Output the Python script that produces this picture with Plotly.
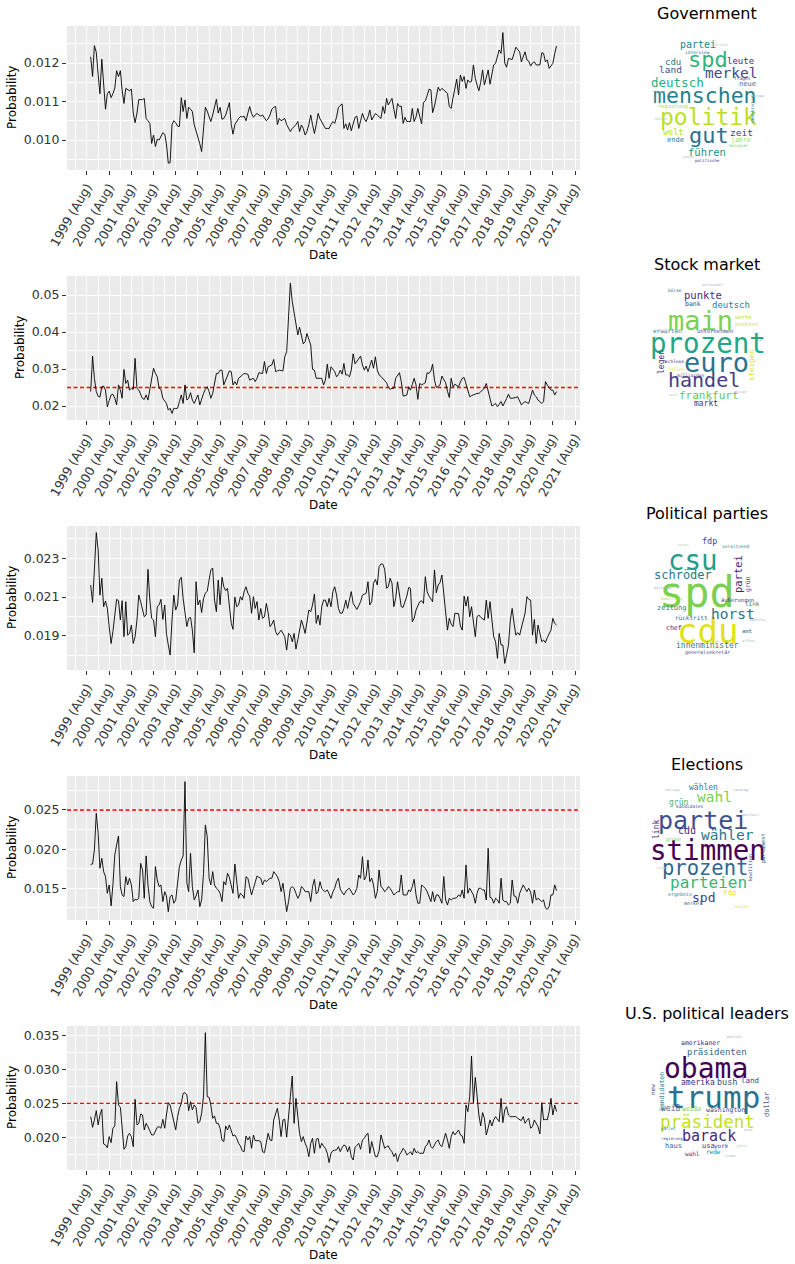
import numpy as np
import pandas as pd
import plotly.graph_objects as go

W, H = 795, 1264

# ---------------- data (monthly, starting Oct 1999) ----------------
start_month = "1999-10-01"

government_1e4 = [
    121.6, 116.5, 124.5, 122.8, 117, 112, 121, 114.5, 108, 112, 112.7, 111,
    112, 113.5, 118, 116.5, 118, 113, 109.5, 113.4, 113, 112.8, 113.2, 107,
    104.5, 107, 110.5, 110.5, 110.5, 110.8, 105.6, 105, 104.3, 99.1, 101.3, 98.3,
    100.2, 100, 101, 101.9, 101.5, 99, 94, 94.1, 104, 105, 104.5, 103.6,
    103.5, 111, 107.4, 110.4, 105.6, 108.5, 108, 107.4, 104, 102.5, 100.9, 99,
    97, 104, 108.5, 107.5, 106, 104.8, 106.5, 108.8, 110.6, 107, 108.5, 105.4,
    105.6, 106.5, 108, 109.7, 104, 101.5, 104, 105, 105.6, 106.1, 106, 106.2,
    105, 107, 108.7, 106.9, 105.9, 106.5, 106.9, 106.5, 106.2, 106.5, 105.6, 105,
    105.5, 106.5, 108, 108.5, 108.7, 104, 105.6, 105, 105.3, 105.6, 104, 103,
    102.2, 103, 103.5, 104, 104.8, 102.2, 103.9, 103, 101.3, 102.2, 104, 106.5,
    104, 101.7, 104, 106.9, 105.5, 104.8, 104, 103, 103, 103, 104, 104.8,
    104.3, 106, 108.5, 109, 109.4, 103, 104.2, 102.6, 104.5, 102.4, 104, 105.9,
    106.2, 103, 105, 106.9, 105.5, 104.8, 106, 107.8, 105.2, 106, 106.9, 106.5,
    106.1, 105.6, 108.7, 106.9, 110.8, 109.1, 110, 110.8, 108, 105.6, 109.5, 108.7,
    108.8, 104.3, 105.9, 104.8, 104.8, 104.8, 108.2, 104.8, 106, 108.2, 106.1, 104.2,
    109.7, 110.2, 111.5, 113.2, 113, 107.1, 108.8, 111, 113.7, 112.8, 113.4, 113,
    112.5, 112.1, 108.7, 108.2, 111, 113.2, 115.8, 111.7, 116.9, 115.2, 116.5, 113.4,
    115.6, 115, 115.2, 119.5, 116, 114.3, 112.8, 115, 118.2, 114.3, 116, 118.2,
    114.5, 117, 119.5, 119.9, 121.5, 123.4, 122.5, 127.9, 120, 118.9, 121.2, 121,
    120.9, 122.5, 124.1, 123.5, 122.9, 120.3, 121.5, 122.9, 120.8, 120.5, 119.2, 120,
    120.3, 119.5, 119.5, 119.5, 122.7, 122.5, 120.3, 120.8, 118.6, 119.2, 119.9, 122.5, 124.4,
]

stock_market_1e3 = [
    23.9, 33.5, 27.5, 23.9, 22.6, 22.4, 25.2, 25.4, 24.3, 19.8, 21.5, 23,
    23.2, 22.1, 20.3, 25.7, 24.3, 22.1, 29.9, 26.1, 27, 24.3, 24.8, 24.5,
    32.9, 24.8, 24.3, 23.2, 22, 21.8, 23, 21.6, 24.8, 28, 30.2, 28.8,
    27.9, 24.8, 24.5, 22.1, 21.5, 20.7, 18.9, 19.4, 18, 19.4, 19.3, 19.4,
    21.2, 23, 20.7, 25.7, 21.6, 22.1, 23.6, 21.6, 20.7, 21.8, 23, 20.3,
    22, 23.4, 24.5, 25.2, 23.9, 22.1, 23.4, 26, 28.8, 28.8, 29.7, 29.7,
    25.7, 27, 28.5, 29.5, 29.3, 25.7, 26.6, 25.7, 27.5, 27.9, 28.4, 28.8,
    28.7, 28.6, 27, 27.2, 27.5, 26.6, 27.5, 29, 28.8, 28.8, 32, 28.8,
    30.6, 30.8, 31.1, 32.6, 29.3, 29.5, 29.7, 29.6, 29.5, 33.3, 34.7, 44.1,
    53.2, 48.2, 45, 42, 39.2, 41.3, 38.7, 36.8, 37.4, 39.6, 38, 36.5,
    29.9, 29.7, 27.5, 27.5, 27.5, 27.5, 25.7, 27, 31.3, 27.5, 30.6, 30,
    29.3, 27.9, 28.5, 29.7, 28.6, 31.5, 28.4, 28.4, 27.9, 29.7, 34.1, 31.4,
    32.2, 32.9, 33.5, 31.1, 29.7, 30.8, 29.3, 30.8, 32.4, 30.2, 33.3, 29.7,
    28.4, 28, 27.5, 27, 26.3, 25, 24.5, 24.8, 24.8, 27.5, 28.2, 29,
    26.6, 22.7, 22.8, 23, 25.2, 24.3, 25.8, 27.5, 25.7, 21.8, 26.1, 25.7,
    26, 26.3, 29, 28.8, 29.5, 31.3, 27, 25, 25.3, 25.7, 28.1, 27,
    26.3, 24, 22.3, 27.5, 25.2, 25.9, 25.5, 25.2, 26.5, 27.5, 27.7, 26.1,
    24.5, 22.5, 22.8, 23, 23.4, 23.4, 23.4, 23.9, 24.5, 24.8, 26.1, 24,
    22.5, 20, 20.3, 20.7, 19.8, 20.5, 21.2, 20, 20.9, 22, 23.2, 22.1,
    22.1, 22.1, 22.3, 22.5, 21.5, 20.3, 20.8, 21.2, 20.9, 20.7, 22.5, 24.3,
    23, 22.5, 21.6, 21, 20.7, 21.2, 26.6, 25.7, 24.8, 24.3, 24.3, 23, 23.9,
]

political_parties_1e4 = [
    216.2, 207.2, 224, 243.3, 234.3, 211, 219.7, 205, 207.9, 204.1, 194.7, 186,
    192.1, 199.8, 208.8, 208.1, 198.1, 208.1, 189.5, 207.6, 190.3, 191.2, 195.5, 186,
    189.5, 198.1, 211, 207.6, 204.1, 199.8, 200.7, 224.3, 208.4, 199, 198.1, 189.5,
    205, 205.9, 208.8, 198.4, 205.9, 191.2, 185.2, 180, 198.1, 211, 203.3, 205.9,
    218.8, 220.2, 209.3, 202.4, 194.7, 199, 199.5, 192.9, 181.2, 217.9, 205.9, 208.4,
    202, 209.3, 212, 213, 219.7, 224, 225, 208.4, 202.4, 218.8, 206, 220.2,
    215.3, 213.3, 214.5, 205, 196.4, 193.3, 210, 205, 205.9, 210.2, 208.4, 212.8,
    215.3, 212, 210.5, 201.6, 210.2, 204.1, 207.6, 198.1, 204.1, 199, 199.8, 206.7,
    202, 194.7, 196, 198.1, 192.1, 190.3, 191.5, 192.9, 191.2, 189.5, 182.6, 191.2,
    190.3, 186.9, 191.2, 183.1, 188, 192.9, 198.1, 195, 191.2, 197, 203.3, 202.4,
    205.9, 211.6, 196.4, 200.7, 195.5, 205, 208.4, 208.4, 205, 209.3, 205, 212.8,
    215.3, 211, 204.1, 201.6, 201.6, 204.1, 208.4, 204.1, 208, 212.8, 206.7, 205,
    203.6, 205.5, 207.6, 211, 211.6, 211.9, 217.9, 205.9, 207.6, 217.1, 219.1, 216.2,
    225.7, 227.1, 227, 224.3, 214.5, 215.3, 219.7, 217.1, 205, 209.3, 217.9, 211,
    205, 204.7, 207.5, 210.5, 215, 214.5, 197.2, 199, 203.3, 205.5, 207.6, 208.1,
    206.7, 220.5, 212.8, 210.5, 209.3, 207.6, 224, 212.2, 216.2, 217.4, 221.4, 210.2,
    202.4, 192.9, 199, 196, 194.7, 201.6, 201.6, 201.4, 195, 192.9, 210.5, 205.3,
    210.2, 199.8, 205, 196.4, 189.5, 199.8, 200.7, 199.5, 199, 198.1, 208.4, 199,
    207.6, 198.1, 189.5, 186.9, 178.3, 191.2, 185.2, 185.2, 175.7, 180, 185.2, 198.1,
    204.1, 196.4, 190.3, 191.6, 190.3, 194, 198.1, 201.6, 210.2, 208.8, 208.4, 190.3,
    198.4, 186, 195.5, 191.2, 186.9, 187.8, 186.4, 189, 191.2, 192.9, 199, 196.4, 195.5,
]

elections_1e4 = [
    180.6, 181, 198.9, 245.7, 220.2, 175.5, 188.3, 171.3, 164.9, 143.6, 154.3, 127.5,
    154.3, 192.6, 205.3, 216.8, 152.1, 141.5, 139.4, 164.9, 154.3, 162.8, 154.3, 133,
    136, 135.1, 137.2, 181.9, 173.4, 137.2, 191.3, 154.3, 133, 126.6, 124.5, 177.7,
    160.6, 152.1, 154.3, 133, 145.7, 140.2, 120.2, 139.4, 141.5, 130.9, 135.1, 158.5,
    177.7, 186.2, 191.3, 286.2, 156.4, 145.7, 194.7, 152.1, 135.1, 140.2, 147.9, 126.6,
    135.1, 169.1, 230.9, 216, 162.8, 154.3, 171.3, 154.3, 150, 147.9, 143.6, 133,
    158.5, 154.3, 169.1, 164, 154.3, 143.6, 181, 160.6, 137.2, 143.6, 141.5, 137.2,
    164.9, 162.8, 152.1, 141.5, 150, 158.5, 165.7, 164, 162.8, 154.3, 160.6, 158.5,
    160.6, 162.8, 162.8, 171.3, 168, 164.9, 158.5, 145.7, 156.4, 141.5, 120.2, 133,
    150, 152, 150, 143.6, 137.2, 141.5, 152.1, 150, 145.7, 145.7, 145.7, 133,
    152.1, 161.5, 142.8, 145.7, 158.5, 150, 147, 145.7, 147.9, 142.8, 137.2, 145.7,
    150, 158.5, 162.8, 148.7, 145, 141.5, 145.7, 148.7, 150, 145.7, 141.5, 144.5,
    150, 167, 162.8, 190.4, 160.6, 164.9, 186.2, 158.5, 162.8, 154.3, 137.2, 145.7,
    173.4, 152.1, 150, 145.7, 148, 152.1, 150, 145.7, 141.5, 143.6, 145.7, 145.7,
    167, 141.5, 141.5, 141.5, 147.9, 145.7, 152.1, 161.5, 141.5, 130.9, 130.9, 154.3,
    152, 150, 145.7, 139.4, 133, 145.7, 133, 141.5, 141.5, 137.2, 130.9, 164.9,
    135.1, 128.7, 137.2, 135.1, 137.2, 137.2, 138, 141.5, 139.4, 147.9, 137.2, 179.8,
    143.6, 150, 145, 141.5, 130.9, 143.6, 150, 150, 148, 147.9, 135.1, 201,
    138.5, 137.2, 130.9, 137.2, 135, 130.9, 162.8, 135.1, 133, 133, 128.7, 130.9,
    160.6, 140.2, 139.4, 130.9, 143.6, 150, 154.3, 150, 145.7, 150, 145, 130.9,
    147.9, 135.1, 137.2, 135.1, 133, 135.1, 125, 123.2, 126.6, 141.5, 141.5, 154.3, 147,
]

us_political_leaders_1e4 = [
    230.5, 214.7, 225.6, 239.3, 218.2, 232.9, 241.3, 190.1, 188.7, 184.7, 201, 192.1,
    213.3, 216.7, 282.1, 247.7, 244.2, 215.7, 182.3, 186.2, 201.9, 205.9, 201, 186.2,
    256.1, 218.2, 220.6, 234.4, 232.9, 210.8, 220.6, 215.7, 208.3, 203.4, 203.4, 210,
    214.7, 215.7, 213.3, 226.5, 213.3, 232.9, 251.1, 247.7, 235.4, 228, 210.8, 230.5,
    242.8, 250, 264.9, 265.9, 262.4, 239.3, 252.6, 240.3, 247.7, 244.2, 220.6, 223,
    235.4, 261, 354.4, 260, 259, 247.7, 228, 231.5, 220.6, 220.6, 213.3, 196,
    193.6, 216.7, 210.8, 218.2, 208.3, 201.9, 203.4, 198.5, 191.1, 187.2, 180, 178.7,
    201.9, 196, 201, 183.7, 203.4, 195, 195, 195, 193.6, 178.7, 177.3, 190,
    205.9, 196, 195, 225.6, 235, 242.8, 225.6, 201, 225.6, 226.5, 200, 225.6,
    260, 290.5, 220.6, 257.5, 230.5, 205.9, 193.6, 201, 191.1, 185, 171.4, 191.1,
    198.5, 176.4, 197.1, 198.5, 183.7, 191.1, 187, 183.7, 176.4, 162.6, 176.4, 180.3,
    181, 181.3, 186.2, 178.7, 185, 188.7, 187.2, 178.7, 186.2, 171.4, 166.5, 185.2,
    188, 191.1, 182.3, 196, 198.5, 203.4, 205.9, 176.4, 193.6, 181.3, 171.4, 171.4,
    180, 203.4, 193.6, 183.7, 186.2, 187.2, 182, 178.7, 171.4, 176.4, 164.1, 174,
    178, 183.7, 180.3, 174, 176, 178.7, 174, 183.7, 177.3, 178.7, 176.4, 176.4,
    176.4, 186.2, 188.7, 196, 186.2, 183.7, 190, 193.6, 196, 188.7, 186.2, 196,
    205.9, 196, 183.7, 201, 208.3, 203.4, 207, 210.8, 203.4, 201.9, 191.1, 247.7,
    237.9, 260, 320, 251.1, 288.5, 255.1, 232.9, 216.7, 236.4, 228, 203.4, 214,
    225.6, 216.7, 225.6, 230.5, 226, 223, 257.5, 221.6, 240.3, 245.2, 232.9, 230.5,
    230.5, 230.5, 230.5, 228, 226.5, 224.6, 230.5, 220.6, 225, 228, 213.3, 215.7,
    225.6, 220, 215.7, 204.9, 251.1, 225.6, 226.5, 225.6, 237.9, 257.5, 232.9, 247.7, 237.9,
]

panel_titles = ["Government", "Stock market", "Political parties", "Elections",
                "U.S. political leaders"]
tick_years = list(range(1999, 2022))
tick_labels = [f"{y} (Aug)" for y in tick_years]
reference_level = 0.025

series = [
    np.array(government_1e4) / 1e4,
    np.array(stock_market_1e3) / 1e3,
    np.array(political_parties_1e4) / 1e4,
    np.array(elections_1e4) / 1e4,
    np.array(us_political_leaders_1e4) / 1e4,
]
y_major = [
    [0.010, 0.011, 0.012],
    [0.02, 0.03, 0.04, 0.05],
    [0.019, 0.021, 0.023],
    [0.015, 0.020, 0.025],
    [0.020, 0.025, 0.030, 0.035],
]
y_major_text = [
    ["0.010", "0.011", "0.012"],
    ["0.02", "0.03", "0.04", "0.05"],
    ["0.019", "0.021", "0.023"],
    ["0.015", "0.020", "0.025"],
    ["0.020", "0.025", "0.030", "0.035"],
]
y_minor = [
    [0.0095, 0.0105, 0.0115, 0.0125],
    [0.025, 0.035, 0.045, 0.055],
    [0.018, 0.020, 0.022, 0.024],
    [0.0125, 0.0175, 0.0225, 0.0275],
    [0.0175, 0.0225, 0.0275, 0.0325],
]
y_ranges = [
    [0.009221, 0.012961],
    [0.01622, 0.05514],
    [0.01723, 0.02467],
    [0.01095, 0.02934],
    [0.01517, 0.03643],
]
show_reference = [False, True, False, True, True]

# ---------------- layout geometry (pixels) ----------------
panel_top = [26, 276, 526, 776, 1026]
panel_h = 144
left_px, right_px = 67, 580
prob_x = [12, 20, 12, 12, 12]

def px(x):
    return x / W

def py(y):
    return 1 - y / H

tick_dates = [f"{y}-08-01" for y in tick_years]
minor_dates = [f"{y}-02-01" for y in range(1999, 2022)]
x_range = ["1998-09-06", "2021-10-22"]

fig = go.Figure()
annotations = []

tick_font = dict(family="DejaVu Sans", size=12.5, color="#333333")
title_font = dict(family="DejaVu Sans", size=12, color="black")

def note(text, x, y, font, angle=0):
    return dict(text=text, x=px(x), y=py(y), xref="paper", yref="paper",
                xanchor="center", yanchor="middle", showarrow=False,
                textangle=angle, font=font)

for i, vals in enumerate(series):
    k = i + 1
    xa = "x" if k == 1 else f"x{k}"
    ya = "y" if k == 1 else f"y{k}"
    dates = pd.date_range(start_month, periods=len(vals), freq="MS")
    if show_reference[i]:
        fig.add_trace(go.Scatter(
            x=x_range, y=[reference_level, reference_level], mode="lines",
            xaxis=xa, yaxis=ya, line=dict(color="#ff0000", width=1.4, dash="4px,2.5px"),
            showlegend=False, hoverinfo="skip"))
    fig.add_trace(go.Scatter(
        x=dates, y=vals, mode="lines", xaxis=xa, yaxis=ya,
        line=dict(color="black", width=0.9), showlegend=False,
        hoverinfo="skip"))
    top = panel_top[i]
    dom_y = [py(top + panel_h), py(top)]
    fig.layout[f"xaxis{'' if k == 1 else k}"] = dict(
        domain=[px(left_px), px(right_px)], anchor=ya, type="date",
        range=x_range, tickmode="array", tickvals=tick_dates, ticktext=tick_labels,
        tickangle=-60, tickfont=tick_font, ticks="outside", ticklen=4,
        tickcolor="#333333", tickwidth=1, showgrid=True, gridcolor="white",
        gridwidth=1.1, zeroline=False, showline=False, automargin=False,
        minor=dict(tickmode="array", tickvals=minor_dates, showgrid=True,
                   gridcolor="white", gridwidth=0.55, ticks=""),
    )
    fig.layout[f"yaxis{'' if k == 1 else k}"] = dict(
        domain=dom_y, anchor=xa, range=y_ranges[i], tickmode="array",
        tickvals=y_major[i], ticktext=y_major_text[i], tickfont=tick_font,
        ticks="outside", ticklen=4, tickcolor="#333333", tickwidth=1,
        showgrid=True, gridcolor="white", gridwidth=1.1, zeroline=False,
        showline=False, automargin=False,
        minor=dict(tickmode="array", tickvals=y_minor[i], showgrid=True,
                   gridcolor="white", gridwidth=0.55, ticks=""),
    )
    annotations.append(note("Probability", prob_x[i], top + panel_h / 2,
                            title_font, -90))
    annotations.append(note("Date", (left_px + right_px) / 2, top + 229, title_font))
    annotations.append(note(panel_titles[i], 707, top - 12,
                            dict(family="DejaVu Sans", size=16, color="black")))

# ---------------- word clouds (word, x px, y px, size, colour, angle) ----------
cloud_words = [
    [  # Government
        ("menschen", 705, 96, 21.5, "#277f8e", 0),
        ("politik", 708, 117, 23, "#bddf26", 0),
        ("gut", 709, 135, 22, "#2c728e", 0),
        ("spd", 708, 59, 22, "#2fb47c", 0),
        ("merkel", 731, 73, 14.5, "#3e4a89", 0),
        ("deutsch", 677, 82, 12.5, "#29af7f", 0),
        ("partei", 698, 45, 10, "#25858e", 0),
        ("führen", 707, 152, 10.5, "#21918c", 0),
        ("land", 670, 70, 9.5, "#3b528b", 0),
        ("cdu", 673, 62, 9, "#2a788e", 0),
        ("leute", 740, 61, 9, "#472d7b", 0),
        ("zeit", 741, 132, 9.5, "#414487", 0),
        ("welt", 673, 132, 8.5, "#b5de2b", 0),
        ("ende", 675, 140, 7, "#26828e", 0),
        ("jahre", 741, 140, 6.5, "#a0da39", 0),
        ("neue", 747, 84, 7, "#5c6d94", 0),
        ("fragen", 742, 78, 4.5, "#3e4a89", 0),
        ("regierung", 673, 106, 5.5, "#a8db34", 0),
        ("interview", 697, 52, 4.5, "#31688e", 0),
        ("beispiel", 739, 145, 4, "#6ece58", 0),
        ("demokratie", 752, 110, 4.5, "#26828e", -90),
        ("politische", 707, 160, 4, "#482878", 0),
        ("staat", 660, 92, 3.5, "#9bb0c8", 0),
        ("bürger", 661, 119, 3.5, "#a9cfa0", 0),
        ("europa", 757, 96, 3.5, "#a3a9cc", 0),
        ("kritik", 722, 45, 3.5, "#9fc3c8", 0),
        ("woche", 688, 157, 3.5, "#b0b8d0", 0),
    ],
    [  # Stock market
        ("prozent", 708, 343, 27.5, "#22a884", 0),
        ("main", 700, 320, 27, "#7ad151", 0),
        ("euro", 716, 363, 27, "#2c728e", 0),
        ("handel", 704, 380, 20, "#433e85", 0),
        ("frankfurt", 709, 395, 11, "#5ec962", 0),
        ("punkte", 703, 295, 10.5, "#472d7b", 0),
        ("deutsch", 731, 305, 9, "#26828e", 0),
        ("bank", 693, 304, 6.5, "#3e4a89", 0),
        ("markt", 706, 404, 8, "#46337e", 0),
        ("legen", 662, 362, 8, "#46337e", -90),
        ("steigen", 751, 365, 7.5, "#d8e219", -90),
        ("werte", 743, 317, 5.5, "#b5de2b", 0),
        ("punkten", 746, 324, 5.5, "#dde318", 0),
        ("erwarten", 667, 331, 6, "#26828e", 0),
        ("unternehmen", 715, 331, 5.5, "#3e4a89", 0),
        ("schloss", 674, 362, 4.5, "#482878", 0),
        ("milliarden", 690, 375, 4.5, "#3e4a89", 0),
        ("fallen", 676, 369, 4.5, "#dde318", 0),
        ("börse", 675, 290, 4.5, "#31688e", 0),
        ("wirtschaft", 712, 285, 3.5, "#a3a9cc", 0),
        ("dax", 760, 340, 3.5, "#9fc3c8", 0),
        ("aktien", 740, 392, 3.5, "#b0b8d0", 0),
        ("kurs", 673, 395, 3.5, "#a9cfa0", 0),
    ],
    [  # Political parties
        ("spd", 697, 592, 42, "#7ad151", 0),
        ("cdu", 707, 631, 34, "#dde318", 0),
        ("csu", 693, 560, 27.5, "#1f9e89", 0),
        ("horst", 733, 614, 14.5, "#2c728e", 0),
        ("schröder", 683, 575, 12, "#2a788e", 0),
        ("partei", 738, 574, 10.5, "#482878", -90),
        ("fdp", 709, 541, 8.5, "#3e4a89", 0),
        ("grün", 748, 584, 6.5, "#3e4a89", -90),
        ("link", 752, 603, 6, "#26828e", 0),
        ("äußerungen", 737, 600, 5.5, "#3e4a89", 0),
        ("zeitung", 672, 608, 7, "#26828e", 0),
        ("rücktritt", 691, 618, 6, "#31688e", 0),
        ("chef", 674, 628, 6.5, "#482878", 0),
        ("amt", 747, 631, 5.5, "#31688e", 0),
        ("innenminister", 707, 646, 8, "#26828e", 0),
        ("generalsekretär", 707, 652, 5, "#3e4a89", 0),
        ("vorsitzend", 735, 546, 4.5, "#26828e", 0),
        ("koalition", 672, 598, 4, "#b5de2b", 0),
        ("politiker", 663, 588, 3.5, "#a3a9cc", 0),
        ("affäre", 748, 641, 3.5, "#9fc3c8", 0),
        ("union", 683, 545, 3.5, "#a9cfa0", 0),
        ("seehofer", 757, 620, 3.5, "#b0b8d0", 0),
    ],
    [  # Elections
        ("stimmen", 708, 850, 27.5, "#440154", 0),
        ("partei", 703, 820, 25, "#3b528b", 0),
        ("prozent", 705, 868, 20.5, "#31688e", 0),
        ("parteien", 708, 882, 16, "#35b779", 0),
        ("wähler", 727, 835, 14.5, "#2a788e", 0),
        ("wahl", 714, 797, 14.5, "#7ad151", 0),
        ("spd", 703, 897, 13, "#414487", 0),
        ("cdu", 687, 831, 10, "#472d7b", 0),
        ("wählen", 703, 787, 8, "#26828e", 0),
        ("grün", 678, 802, 8, "#35b779", 0),
        ("fdp", 730, 892, 7.5, "#dde318", 0),
        ("link", 657, 830, 8, "#482878", -90),
        ("koalition", 750, 868, 5, "#3e4a89", -90),
        ("parlament", 763, 848, 5.5, "#31688e", -90),
        ("kandidaten", 689, 806, 4.5, "#3e4a89", 0),
        ("grüne", 673, 839, 5, "#6ece58", 0),
        ("ergebnis", 680, 894, 5, "#26828e", 0),
        ("merkel", 693, 903, 5, "#31688e", 0),
        ("union", 742, 906, 4.5, "#dde318", 0),
        ("landtag", 740, 790, 3.5, "#a3a9cc", 0),
        ("umfrage", 672, 790, 3.5, "#9fc3c8", 0),
        ("sitze", 662, 868, 3.5, "#a9cfa0", 0),
        ("mehrheit", 750, 815, 3.5, "#b0b8d0", 0),
    ],
    [  # U.S. political leaders
        ("trump", 713, 1097, 31, "#2c728e", 0),
        ("obama", 706, 1068, 28, "#440154", 0),
        ("präsident", 707, 1122, 17.5, "#c2df23", 0),
        ("barack", 709, 1136, 15, "#472d7b", 0),
        ("präsidenten", 717, 1052, 9, "#31688e", 0),
        ("amerika", 698, 1082, 8, "#482878", 0),
        ("bush", 727, 1082, 8.5, "#3e4a89", 0),
        ("land", 750, 1080, 7.5, "#3e4a89", 0),
        ("amerikaner", 700, 1043, 6.5, "#482878", 0),
        ("kandidaten", 662, 1092, 6.5, "#26828e", -90),
        ("new", 652, 1090, 6, "#3e4a89", -90),
        ("weiß", 670, 1108, 8, "#31688e", 0),
        ("weiße", 692, 1109, 6.5, "#6ece58", 0),
        ("washington", 725, 1110, 6.5, "#3e4a89", 0),
        ("dollar", 767, 1105, 7, "#3e4a89", -90),
        ("haus", 673, 1146, 7, "#31688e", 0),
        ("usa", 708, 1146, 7, "#482878", 0),
        ("york", 721, 1146, 6, "#3e4a89", 0),
        ("rede", 713, 1151, 6, "#26828e", 0),
        ("wahl", 692, 1153, 6, "#482878", 0),
        ("regierung", 672, 1138, 4, "#3e4a89", 0),
        ("partei", 668, 1128, 4, "#26828e", 0),
        ("politik", 735, 1037, 3.5, "#a3a9cc", 0),
        ("ende", 748, 1130, 3.5, "#9fc3c8", 0),
        ("jahre", 741, 1146, 3.5, "#a9cfa0", 0),
        ("times", 730, 1156, 3.5, "#b0b8d0", 0),
    ],
]

for words in cloud_words:
    for (w, x, y, s, c, a) in words:
        annotations.append(note(w, x, y,
                                dict(family="DejaVu Sans Mono", size=s, color=c), a))

fig.update_layout(
    width=W, height=H, margin=dict(l=0, r=0, t=0, b=0, autoexpand=False),
    paper_bgcolor="white", plot_bgcolor="#ebebeb",
    annotations=annotations, showlegend=False,
    font=dict(family="DejaVu Sans"),
)

fig.write_html(
    "out.html",
    config={"displayModeBar": False},
    post_script="document.body.style.margin='0px';document.body.style.overflow='hidden';",
)
